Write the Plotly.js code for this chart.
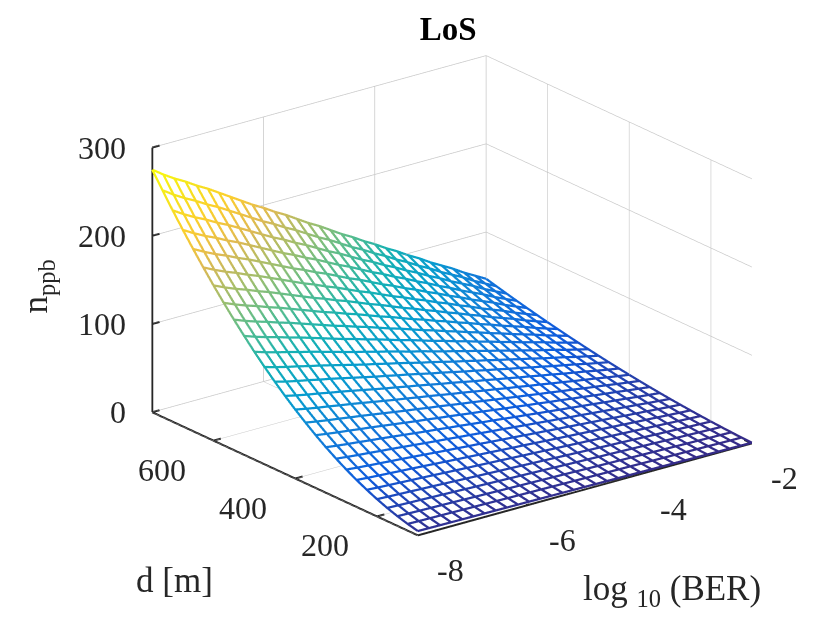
<!DOCTYPE html>
<html>
<head>
<meta charset="utf-8">
<script src="https://cdn.plot.ly/plotly-3.0.1.min.js"></script>
<style>html,body{margin:0;padding:0;background:#fff;}#chart{width:830px;height:622px;}#log{position:absolute;left:0;top:0;font:12px monospace;color:red;white-space:pre-wrap;}</style>
</head>
<body>
<div id="chart"></div>
<div id="log"></div>
<script>
var logEl = document.getElementById('log');
window.onerror = function(m,s,l){ logEl.textContent += 'ERR: '+m+' @'+l+'\n'; };
// log10(BER) grid
var berLog = [-8,-7.8,-7.6,-7.4,-7.2,-7,-6.8,-6.6,-6.4,-6.2,-6,-5.8,-5.6,-5.4,-5.2,-5,-4.8,-4.6,-4.4,-4.2,-4,-3.8,-3.6,-3.4,-3.2,-3,-2.8,-2.6,-2.4,-2.2,-2];
// distance grid [m]
var dist = [100,125,150,175,200,225,250,275,300,325,350,375,400,425,450,475,500,525,550,575,600,625,650,675,700,725,750];
// n_ppb read along the back edge (d = 750 m), one per berLog value
var nAtDmax = [275,266,258,251,243,236,228,220,212,204,197,189,182,174,166,159,151,143,136,128,121,113,106,98,91,83,76,69,61,54,47];
// n_ppb read along the left edge (log10 BER = -8), one per dist value
var nAtBerMin = [4.9,7.6,11.0,15.0,19.6,24.8,30.6,37.0,44.0,51.6,59.9,68.8,78.2,88.3,99.0,110.3,122.2,134.8,147.9,161.6,176.0,191.0,206.6,222.8,239.6,257.0,275];
var zTicks = [0,100,200,300];
var dTicks = [200,400,600];
var berTicks = [-8,-6,-4,-2];
var berRange = [-8,-2], dRange = [100,750], zRange = [0,300];

var parula = [[0,'rgb(53,42,135)'],[0.1,'rgb(15,92,221)'],[0.2,'rgb(18,125,216)'],[0.3,'rgb(7,156,207)'],[0.4,'rgb(21,177,180)'],[0.5,'rgb(89,189,140)'],[0.6,'rgb(165,190,107)'],[0.7,'rgb(225,185,82)'],[0.8,'rgb(252,206,46)'],[0.9,'rgb(245,229,29)'],[1,'rgb(249,251,14)']];

// surface table (rows = dist, cols = berLog)
var ref = nAtDmax[0];
var Z = dist.map(function(d,i){ return berLog.map(function(b,j){ return nAtBerMin[i]*nAtDmax[j]/ref; }); });
var zmin = Infinity, zmax = -Infinity;
Z.forEach(function(r){ r.forEach(function(v){ if(v<zmin) zmin=v; if(v>zmax) zmax=v; }); });

// mesh lines
var lx=[], ly=[], lz=[], lc=[];
function brk(){ lx.push(null); ly.push(null); lz.push(null); lc.push(zmin); }
for (var i=0;i<dist.length;i++){
  for (var j=0;j<berLog.length;j++){ lx.push(berLog[j]); ly.push(dist[i]); lz.push(Z[i][j]); lc.push(Z[i][j]); }
  brk();
}
for (var j=0;j<berLog.length;j++){
  for (var i=0;i<dist.length;i++){ lx.push(berLog[j]); ly.push(dist[i]); lz.push(Z[i][j]); lc.push(Z[i][j]); }
  brk();
}
var Zs = Z.map(function(r){ return r.map(function(v){ return v-2; }); });

// axis lines and tick marks (MATLAB style), built from the axis ranges and tick values
var axX=[], axY=[], axZ=[];
function seg(a,b){ axX.push(a[0],b[0],null); axY.push(a[1],b[1],null); axZ.push(a[2],b[2],null); }
var x0 = berRange[0], dHi = dRange[1], dLo = dRange[0];
seg([x0,dHi,zRange[0]],[x0,dHi,zRange[1]]);
seg([x0,dHi,0],[x0,dLo,0]);
seg([x0,dLo,0],[berRange[1],dLo,0]);
var tx = (berRange[1]-berRange[0])*0.022, td = (dRange[1]-dRange[0])*0.028;
zTicks.forEach(function(t){ seg([x0,dHi,t],[x0+tx,dHi,t]); });
dTicks.forEach(function(t){ seg([x0,t,0],[x0+tx,t,0]); });
berTicks.forEach(function(t){ seg([t,dLo,0],[t,dLo+td,0]); });

var traces = [
  {type:'surface', x:berLog, y:dist, z:Zs, colorscale:[[0,'#ffffff'],[1,'#ffffff']], showscale:false,
   lighting:{ambient:1,diffuse:0,specular:0,fresnel:0,roughness:1}, hoverinfo:'skip'},
  {type:'scatter3d', mode:'lines', x:lx, y:ly, z:lz,
   line:{width:4.5, color:lc, colorscale:parula, cmin:zmin, cmax:zmax}, hoverinfo:'skip', showlegend:false},
  {type:'scatter3d', mode:'lines', x:axX, y:axY, z:axZ, line:{width:4, color:'#262626'}, hoverinfo:'skip', showlegend:false}
];

// a hair of padding so that marks lying exactly on the box faces are not clipped
function mkAx(range, tv){
  var pad = (range[1]-range[0])*1e-4;
  return {range:[range[0]-pad, range[1]+pad], tickvals:tv, ticktext:tv.map(String), showgrid:true, gridcolor:'rgb(200,200,200)', gridwidth:1.5,
    showline:false, ticks:'', showticklabels:false, showbackground:false, zeroline:false, showspikes:false, autorange:false,
    title:{text:''}};
}
var tf = {family:'Liberation Serif', size:32, color:'#262626'};
var sceneAnn = [];
var dLab = dHi - 0.5;
zTicks.forEach(function(t){ sceneAnn.push({x:x0+0.001, y:dLab, z:Math.min(t+0.01, zRange[1]-0.01), text:String(t), showarrow:false, xanchor:'right', yanchor:'middle', xshift:-25, font:tf}); });
dTicks.forEach(function(t){ sceneAnn.push({x:x0, y:t, z:0, text:String(t), showarrow:false, xanchor:'center', yanchor:'middle', xshift:-52, yshift:-29, font:tf}); });
berTicks.forEach(function(t){ sceneAnn.push({x:t, y:dLo, z:0, text:String(t), showarrow:false, xanchor:'center', yanchor:'middle', xshift:33, yshift:-35, font:tf}); });

var lf = {family:'Liberation Serif', size:35, color:'#262626'};
var layout = {
  width:830, height:622, margin:{l:0,r:0,t:0,b:0}, paper_bgcolor:'#fff',
  font:{family:'Liberation Serif', color:'#262626'},
  title:{text:'<b>LoS</b>', font:{family:'Liberation Serif', size:33, color:'#000'}, x:0.54, y:0.955, xanchor:'center', yanchor:'middle'},
  scene:{
    domain:{x:[0.0892,1], y:[0.0498,1]},
    xaxis:mkAx(berRange, berTicks),
    yaxis:mkAx(dRange, dTicks),
    zaxis:mkAx(zRange, zTicks),
    aspectmode:'manual', aspectratio:{x:1.427, y:1.473, z:0.959},
    camera:{projection:{type:'orthographic'}, eye:{x:-0.793, y:-1.029, z:0.497}, center:{x:0,y:0,z:0}, up:{x:0,y:0,z:1}},
    annotations:sceneAnn
  },
  annotations:[
    {xref:'paper', yref:'paper', x:0.045, y:0.54, xanchor:'center', yanchor:'middle', text:'n<sub>ppb</sub>', showarrow:false, textangle:-90, font:lf},
    {xref:'paper', yref:'paper', x:0.21, y:0.067, xanchor:'center', yanchor:'middle', text:'d [m]', showarrow:false, font:lf},
    {xref:'paper', yref:'paper', x:0.81, y:0.05, xanchor:'center', yanchor:'middle', text:'log <sub>10</sub> (BER)', showarrow:false, font:lf}
  ]
};
Plotly.newPlot('chart', traces, layout, {displayModeBar:false}).then(function(){}, function(e){ logEl.textContent += 'reject: '+e; });
</script>
</body>
</html>
